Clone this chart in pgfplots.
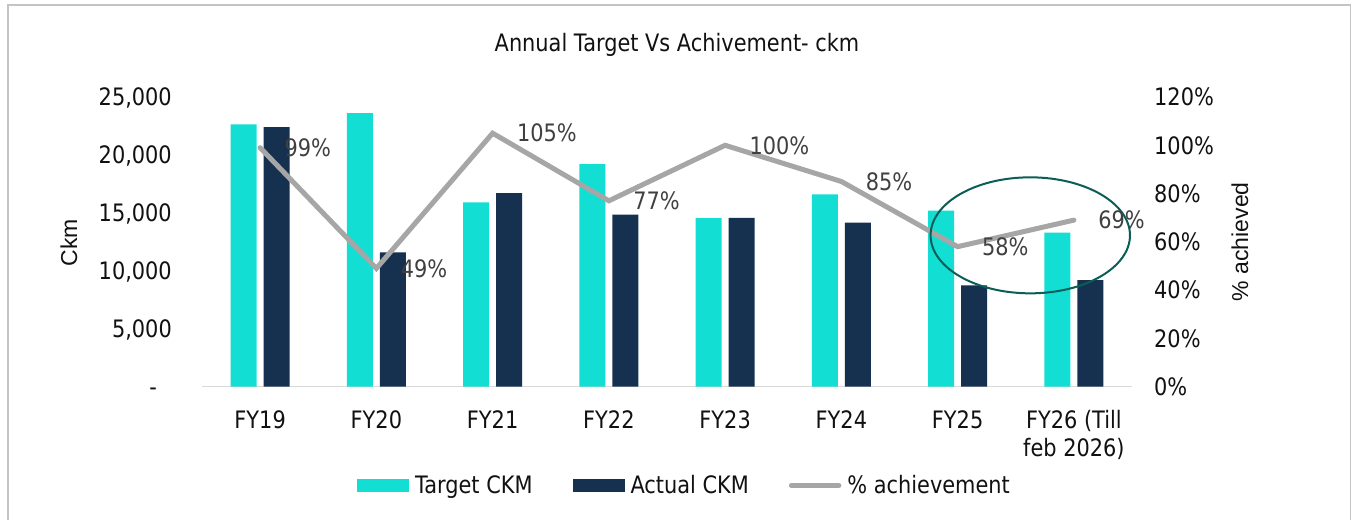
\documentclass[border=0pt]{standalone}
\usepackage{pgfplots}
\pgfplotsset{compat=1.18}
\usepackage{fontspec}
\setmainfont{DejaVu Sans}[FakeStretch=0.87]
\newfontfamily\arialf{Liberation Sans}
\definecolor{turq}{HTML}{12DED4}
\definecolor{navy}{HTML}{16314F}
\definecolor{lineG}{HTML}{A6A6A6}
\definecolor{ellC}{HTML}{0B5E55}
\definecolor{axisC}{HTML}{D9D9D9}
\definecolor{lblC}{HTML}{404040}
\definecolor{tickC}{HTML}{111111}
\definecolor{frameC}{HTML}{C4C4C4}
\newcommand\tf{\fontsize{24bp}{28.5bp}\selectfont}
\pgfplotsset{
  barlegend/.style={legend image code/.code={\fill[##1] (0bp,-7.2bp) rectangle (52bp,6.2bp);}},
  linelegend/.style={legend image code/.code={\draw[##1] (3bp,-0.5bp) -- (50bp,-0.5bp);}},
}
\begin{document}
\begin{tikzpicture}
\useasboundingbox (0bp,0bp) rectangle (1353bp,520bp);
\fill[white] (0bp,0bp) rectangle (1353bp,520bp);
\draw[frameC, line width=1.3bp] (8bp,-5bp) -- (8bp,515bp) -- (1350.5bp,515bp) -- (1350.5bp,-5bp);
\node[anchor=base, font=\tf, text=tickC, inner sep=0pt] at (677bp,468.25bp) {Annual Target Vs Achivement- ckm};
\node[rotate=90, font=\arialf\fontsize{23bp}{28bp}\selectfont, text=tickC, inner sep=0pt] at (69bp,277.5bp) {Ckm};
\node[rotate=90, font=\arialf\fontsize{23bp}{28bp}\selectfont, text=tickC, inner sep=0pt] at (1240bp,278.3bp) {\% achieved};

\begin{axis}[
  at={(202bp,133.3bp)}, anchor=south west,
  scale only axis, width=930bp, height=289.7bp,
  xmin=-0.5, xmax=7.5, ymin=0, ymax=25000,
  ybar=7bp, bar width=26bp,
  axis x line*=bottom, axis y line*=left,
  y axis line style={draw=none},
  x axis line style={draw=axisC, line width=1.5bp},
  major tick length=0pt, tick style={draw=none},
  xtick={0,1,2,3,4,5,6,7},
  xticklabels={FY19,FY20,FY21,FY22,FY23,FY24,FY25,{\begin{tabular}[t]{@{}c@{}}FY26 (Till\\feb 2026)\end{tabular}}},
  xticklabel style={anchor=base, inner sep=0pt, yshift=-41.6bp, font=\tf, text=tickC},
  ytick={0,5000,10000,15000,20000,25000},
  yticklabels={{-\hspace*{15bp}},{5,000},{10,000},{15,000},{20,000},{25,000}},
  yticklabel style={anchor=east, inner sep=0pt, xshift=-30bp, font=\tf, text=tickC, text height=17.5bp, text depth=0pt},
  scaled y ticks=false,
  legend columns=3,
  legend style={at={(0.1667,-0.3394)}, anchor=west, draw=none, fill=none, inner sep=0pt, outer sep=0pt,
    font=\tf, text=tickC, column sep=6bp, nodes={inner sep=0pt, text height=17.5bp, text depth=0pt},
    /tikz/every even column/.append style={column sep=40bp}},
  legend cell align=left,
]
\addplot[fill=turq, draw=none, barlegend] coordinates {(0,22640) (1,23600) (2,15900) (3,19200) (4,14550) (5,16600) (6,15200) (7,13300)};
\addlegendentry{Target CKM}
\addplot[fill=navy, draw=none, barlegend] coordinates {(0,22400) (1,11600) (2,16700) (3,14850) (4,14560) (5,14150) (6,8750) (7,9200)};
\addlegendentry{Actual CKM}
\addlegendimage{lineG, line width=5.5bp, line cap=round, linelegend}
\addlegendentry{\% achievement}
\end{axis}

\begin{axis}[
  at={(202bp,133.3bp)}, anchor=south west,
  scale only axis, width=930bp, height=289.7bp,
  xmin=-0.5, xmax=7.5, ymin=0, ymax=120,
  axis y line*=right, axis x line=none,
  y axis line style={draw=none},
  major tick length=0pt, tick style={draw=none},
  ytick={0,20,40,60,80,100,120},
  yticklabels={0\%,20\%,40\%,60\%,80\%,100\%,120\%},
  yticklabel style={anchor=west, inner sep=0pt, xshift=22bp, font=\tf, text=tickC, text height=17.5bp, text depth=0pt},
  clip=false,
  /pgf/number format/assume math mode=true,
]
\addplot[lineG, line width=5bp, line cap=round, mark=none,
  point meta=y,
  nodes near coords={\pgfmathprintnumber[fixed,precision=0]{\pgfplotspointmeta}\%},
  every node near coord/.append style={anchor=west, inner sep=0pt, xshift=22bp, font=\tf, text=lblC, text height=17.5bp, text depth=0pt}]
  coordinates {(0,99) (1,49) (2,105) (3,77) (4,100) (5,85) (6,58) (7,69)};
\draw[ellC, line width=2bp] (axis cs:6.625,62.7) ellipse [x radius=99.7bp, y radius=58bp];
\end{axis}
\end{tikzpicture}
\end{document}
